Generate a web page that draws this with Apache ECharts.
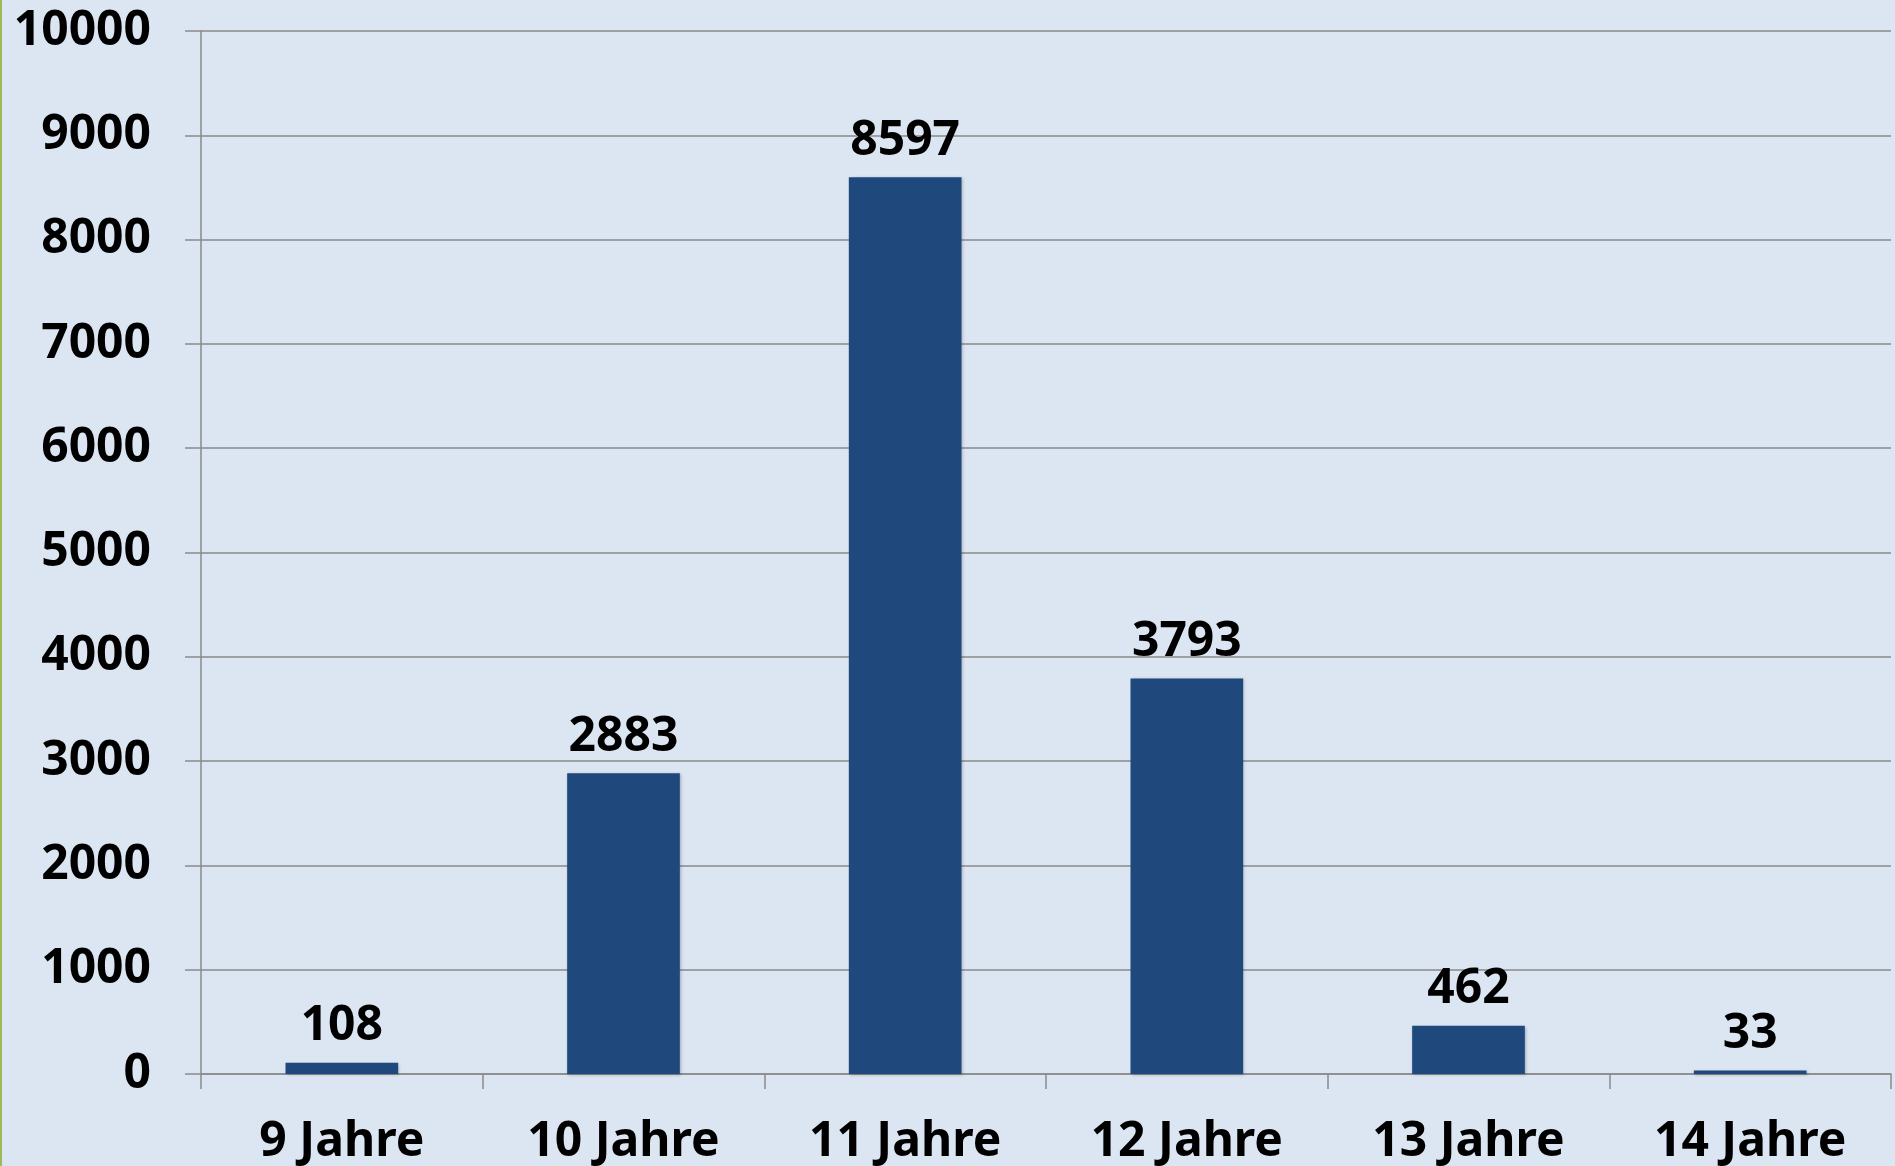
<!DOCTYPE html>
<html>
<head>
<meta charset="utf-8">
<script src="https://cdn.jsdelivr.net/npm/echarts@6/dist/echarts.min.js"></script>
<style>
html, body { margin: 0; padding: 0; background: #dce6f2; }
#chart { width: 1893px; height: 1166px; border-left: 2px solid #9bbb59; background: #dce6f2; }
</style>
</head>
<body>
<div id="chart"></div>
<script>
// Kategorien und Werte
var categories = ['9 Jahre', '10 Jahre', '11 Jahre', '12 Jahre', '13 Jahre', '14 Jahre'];
var values = [108, 2883, 8597, 3793, 462, 33];
var yMax = 10000;
var yStep = 1000;

var chart = echarts.init(document.getElementById('chart'));
var fontFam = '"Noto Sans", "Open Sans", sans-serif';

chart.setOption({
  animation: false,
  backgroundColor: '#dce6f2',
  grid: {
    left: 199,
    right: 4,
    top: 31,
    bottom: 89,
    containLabel: false
  },
  xAxis: {
    type: 'category',
    data: categories,
    axisLine: { show: true, lineStyle: { color: '#8a8a8a', width: 1.5 } },
    axisTick: { show: true, length: 15, alignWithLabel: false, lineStyle: { color: '#8a8a8a', width: 1.5 } },
    axisLabel: {
      color: '#000',
      fontFamily: fontFam,
      fontWeight: 'bold',
      fontSize: 48,
      margin: 44
    }
  },
  yAxis: {
    type: 'value',
    min: 0,
    max: yMax,
    interval: yStep,
    axisLine: { show: true, lineStyle: { color: '#8a8a8a', width: 1.5 } },
    axisTick: { show: true, length: 16, lineStyle: { color: '#8a8a8a', width: 1.5 } },
    splitLine: { show: true, lineStyle: { color: '#8a8a8a', width: 1.5 } },
    axisLabel: {
      color: '#000',
      fontFamily: fontFam,
      fontWeight: 'bold',
      fontSize: 48,
      margin: 50,
      formatter: function (v) { return String(v); }
    }
  },
  series: [{
    type: 'bar',
    data: values,
    barWidth: '40%',
    itemStyle: {
      color: '#1f497d',
      shadowColor: 'rgba(0,0,0,0.25)',
      shadowBlur: 3,
      shadowOffsetX: 1,
      shadowOffsetY: 1
    },
    label: {
      show: true,
      position: 'top',
      distance: 12,
      color: '#000',
      fontFamily: fontFam,
      fontWeight: 'bold',
      fontSize: 48
    }
  }]
});
</script>
</body>
</html>
